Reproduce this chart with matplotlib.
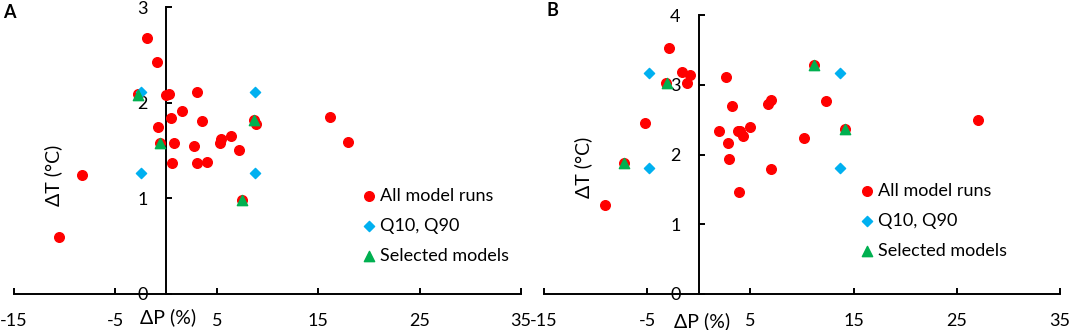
import numpy as np
import matplotlib
matplotlib.use("Agg")
import matplotlib.pyplot as plt

plt.rcParams['font.family'] = ['Lato', 'DejaVu Sans']

# ========= DATA =========
# Panel A
A_ALL_DP = [-1.88, -0.89, -0.03, 0.30, 3.00, 1.54, 0.50, 3.51, -0.77, 8.65, 8.85,
            16.2, 17.9, 6.41, 5.43, 5.29, 2.73, 0.75, -0.63, 7.17, 0.55, 3.06,
            4.05, -8.26, -10.56, 7.50, -2.75]
A_ALL_DT = [2.68, 2.43, 2.08, 2.09, 2.11, 1.91, 1.84, 1.81, 1.75, 1.82, 1.78,
            1.85, 1.59, 1.65, 1.62, 1.58, 1.55, 1.58, 1.58, 1.51, 1.37, 1.37,
            1.38, 1.24, 0.60, 0.98, 2.09]
A_Q_DP = [-2.47, 8.78, -2.47, 8.78]
A_Q_DT = [2.11, 2.11, 1.26, 1.26]
A_SEL_DP = [-2.73, -0.62, 8.65, 7.50]
A_SEL_DT = [2.08, 1.58, 1.82, 0.98]

# Panel B
B_ALL_DP = [-2.91, -1.65, -0.90, -1.10, -3.17, -5.2, -7.2, -9.1, 2.65, 3.24,
            2.00, 2.85, 2.97, 3.78, 4.01, 4.26, 4.98, 6.69, 6.98, 6.98, 3.85,
            10.24, 11.2, 12.34, 14.2, 27.1]
B_ALL_DT = [3.52, 3.18, 3.14, 3.03, 3.03, 2.45, 1.88, 1.27, 3.11, 2.69,
            2.34, 2.17, 1.94, 2.33, 2.34, 2.27, 2.40, 2.72, 2.78, 1.79, 1.46,
            2.23, 3.28, 2.77, 2.37, 2.49]
B_Q_DP = [-4.78, -4.78, 13.7, 13.7]
B_Q_DT = [3.17, 1.80, 3.17, 1.80]
B_SEL_DP = [-7.2, -3.1, 11.2, 14.2]
B_SEL_DT = [1.88, 3.02, 3.28, 2.37]

X_TICKS = [-15, -5, 5, 15, 25, 35]
LABELS = ["All model runs", "Q10, Q90", "Selected models"]

RED = "#FF0000"
BLUE = "#00B0F0"
GREEN = "#00B050"
# ========================


def draw_panel(ax, all_dp, all_dt, q_dp, q_dt, sel_dp, sel_dt, ymax,
               ylab_pos, xlab_pos, leg_anchor):
    ax.scatter(all_dp, all_dt, s=48, marker='o', color=RED, label=LABELS[0], zorder=3)
    ax.scatter(q_dp, q_dt, s=27, marker='D', color=BLUE, label=LABELS[1], zorder=4)
    ax.scatter(sel_dp, sel_dt, s=55, marker='^', color=GREEN, label=LABELS[2], zorder=5)

    ax.set_xlim(-15, 35)
    ax.set_ylim(0, ymax)
    ax.set_xticks(X_TICKS)
    ax.set_xticklabels([str(t) for t in X_TICKS])
    ax.set_yticks(range(0, ymax + 1))

    # axes cross at zero
    ax.spines['top'].set_visible(False)
    ax.spines['right'].set_visible(False)
    ax.spines['left'].set_position(('data', 0))
    for sp in ('left', 'bottom'):
        ax.spines[sp].set_linewidth(1.4)

    ax.tick_params(axis='x', direction='in', length=4.5, width=1.4, pad=14, labelsize=13)
    ax.tick_params(axis='y', direction='in', length=4.5, width=1.4, pad=13, labelsize=13)

    ax.set_xlabel("ΔP (%)", fontsize=14)
    ax.xaxis.set_label_coords(*xlab_pos)
    ax.set_ylabel("ΔT (°C)", fontsize=14)
    ax.yaxis.set_label_coords(*ylab_pos)

    ax.legend(loc='upper left', bbox_to_anchor=leg_anchor, frameon=False,
              fontsize=13, handlelength=0.6, handletextpad=0.3,
              labelspacing=0.78, borderpad=0, borderaxespad=0)


fig = plt.figure(figsize=(10.72, 3.30), dpi=100)
W, H = 1072.0, 330.0

axA = fig.add_axes([14 / W, (H - 294) / H, (521 - 14) / W, (294 - 7) / H])
axB = fig.add_axes([544 / W, (H - 294) / H, (1060 - 544) / W, (294 - 15) / H])

draw_panel(axA, A_ALL_DP, A_ALL_DT, A_Q_DP, A_Q_DT, A_SEL_DP, A_SEL_DT, 3,
           ylab_pos=(0.095, 0.415), xlab_pos=(0.304, -0.049),
           leg_anchor=(0.69, 0.37))
draw_panel(axB, B_ALL_DP, B_ALL_DT, B_Q_DP, B_Q_DT, B_SEL_DP, B_SEL_DT, 4,
           ylab_pos=(0.093, 0.455), xlab_pos=(0.306, -0.065),
           leg_anchor=(0.6155, 0.398))

fig.text(3 / W, 1 - 13 / H, "A", fontsize=13, fontweight='bold', va='center')
fig.text(546 / W, 1 - 10 / H, "B", fontsize=13, fontweight='bold', va='center')

fig.savefig("out.png", dpi=100)
